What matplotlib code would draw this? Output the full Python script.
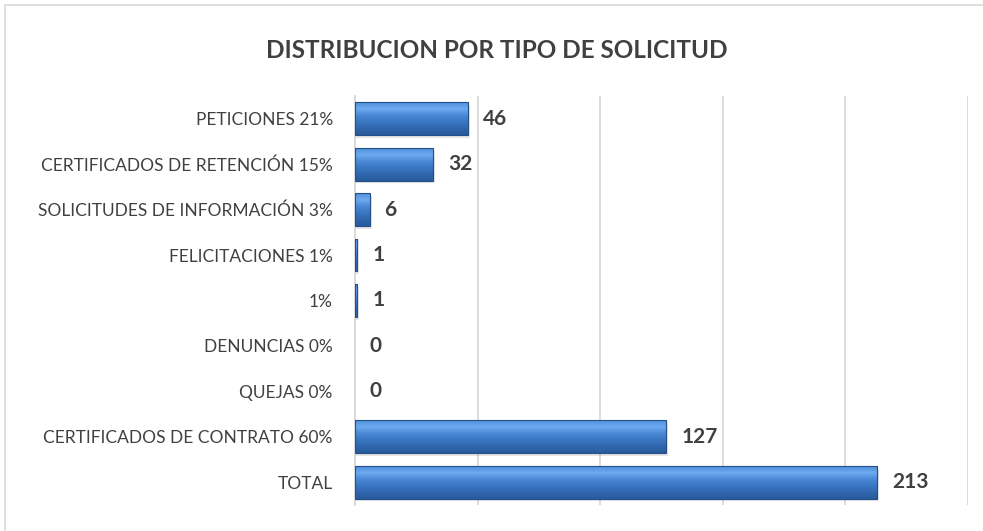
import numpy as np
import matplotlib.pyplot as plt
from matplotlib.colors import LinearSegmentedColormap
from matplotlib.patches import Rectangle

categories = ['PETICIONES 21%', 'CERTIFICADOS DE RETENCIÓN 15%',
              'SOLICITUDES DE INFORMACIÓN 3%', 'FELICITACIONES 1%', '1%',
              'DENUNCIAS 0%', 'QUEJAS 0%', 'CERTIFICADOS DE CONTRATO 60%',
              'TOTAL']
values = [46, 32, 6, 1, 1, 0, 0, 127, 213]
xticks = [0, 50, 100, 150, 200, 250]

plt.rcParams['font.family'] = ['Lato', 'DejaVu Sans']
txt = '#404040'

fig = plt.figure(figsize=(9.83, 5.31), dpi=100)
fig.patches.append(Rectangle((5 / 983, -0.01), 1.0, 1 - 5 / 531 + 0.01,
                             transform=fig.transFigure, fill=False,
                             edgecolor='#d9d9d9', lw=1.2))
ax = fig.add_axes([355 / 983, 1 - 505 / 531, (968 - 355) / 983, (505 - 96) / 531])

y = np.arange(len(categories))
h = 0.72
bars = ax.barh(y, values, height=h, color='#3c7bc8', lw=0, zorder=3)

# vertical gradient inside each bar
cmap = LinearSegmentedColormap.from_list(
    'bev', ['#4f8fdc', '#6eaaf0', '#4a88d6', '#3b77c2', '#2f66ad', '#2a5c9e'])
grad = np.linspace(0, 1, 64).reshape(-1, 1)
for b, yi, v in zip(bars, y, values):
    if v > 0:
        # shadow
        ax.add_patch(Rectangle((0, yi - h / 2 + 0.06), v + 0.8, h,
                               color='#000000', alpha=0.10, lw=0, zorder=2))
        im = ax.imshow(grad, extent=(0, v, yi + h / 2, yi - h / 2), cmap=cmap,
                       aspect='auto', zorder=4, interpolation='bicubic')
        im.set_clip_path(b)
        ax.add_patch(Rectangle((0, yi - h / 2), v, h, fill=False,
                               edgecolor='#24508a', lw=0.8, zorder=5))
    ax.text(v + 6, yi, str(v), va='center', ha='left', fontsize=15,
            fontweight='bold', color=txt, zorder=6)

ax.set_xlim(0, 250)
ax.set_ylim(len(categories) - 0.5, -0.5)
ax.set_xticks(xticks)
ax.set_xticklabels([])
ax.set_yticks(y)
ax.set_yticklabels(categories, fontsize=12.5, color=txt)
ax.tick_params(length=0, pad=16)
ax.grid(axis='x', color='#d9d9d9', lw=1.3, zorder=0)
ax.set_axisbelow(True)
for s in ['top', 'right', 'bottom']:
    ax.spines[s].set_visible(False)
ax.spines['left'].set_color('#d9d9d9')
ax.spines['left'].set_linewidth(1.3)

fig.text(497 / 983, 1 - 50 / 531, 'DISTRIBUCION POR TIPO DE SOLICITUD',
         ha='center', va='center', fontsize=17.5, fontweight='bold', color=txt)

fig.savefig('out.png', dpi=100)
